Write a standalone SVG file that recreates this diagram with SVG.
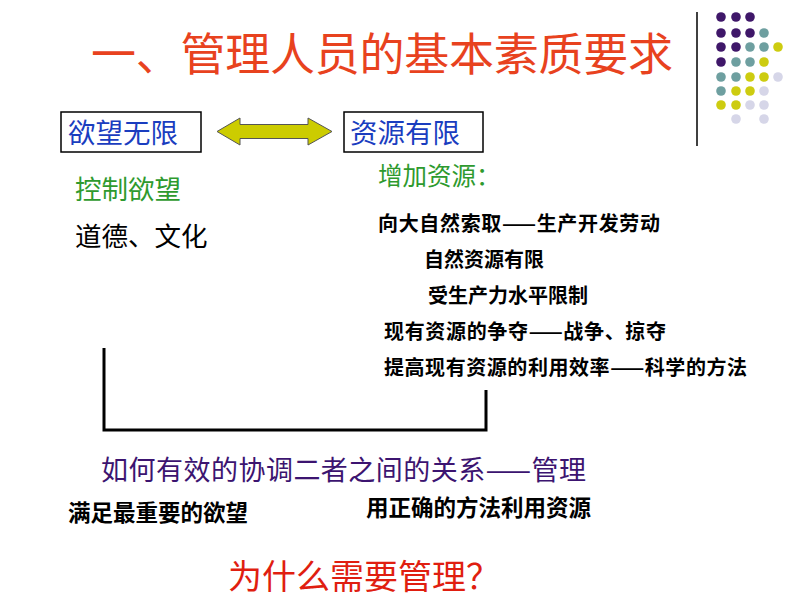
<svg xmlns="http://www.w3.org/2000/svg" width="800" height="600" viewBox="0 0 800 600">
<style>
text{font-family:"Noto Sans CJK SC","Noto Sans",sans-serif;}
.title{fill:#E8421E;font-size:45px;}
.box{fill:#fff;stroke:#000;stroke-width:1.5;}
.blue{fill:#1A3DBF;font-size:27.5px;}
.green{fill:#2E9A2E;}
.list{fill:#000;font-size:20px;font-weight:bold;}
.p{fill:#3C1470;font-size:27px;}
.sub{fill:#000;font-size:22.5px;font-weight:bold;}
.red{fill:#E01E10;font-size:34px;}
.dp{fill:#3F1769;} .dt{fill:#6E9FA0;} .dy{fill:#CDCC10;} .dl{fill:#D6D6E8;}
.line{stroke:#000;stroke-width:3;fill:none;}
</style>
<rect width="800" height="600" fill="#fff"/>
<g id="decor">
<line x1="697" y1="12" x2="697" y2="146" stroke="#000" stroke-width="1.5"/>
<g>
<circle class="dp" cx="721" cy="17" r="4.8"/><circle class="dp" cx="736" cy="17" r="4.8"/><circle class="dp" cx="750" cy="17" r="4.8"/>
<circle class="dp" cx="721" cy="33" r="4.8"/><circle class="dp" cx="736" cy="33" r="4.8"/><circle class="dp" cx="750" cy="33" r="4.8"/><circle class="dt" cx="764" cy="33" r="4.8"/>
<circle class="dp" cx="721" cy="47" r="4.8"/><circle class="dp" cx="736" cy="47" r="4.8"/><circle class="dt" cx="750" cy="47" r="4.8"/><circle class="dt" cx="764" cy="47" r="4.8"/><circle class="dy" cx="778" cy="47" r="4.8"/>
<circle class="dp" cx="721" cy="62" r="4.8"/><circle class="dt" cx="736" cy="62" r="4.8"/><circle class="dt" cx="750" cy="62" r="4.8"/><circle class="dy" cx="764" cy="62" r="4.8"/>
<circle class="dt" cx="721" cy="77" r="4.8"/><circle class="dt" cx="736" cy="77" r="4.8"/><circle class="dy" cx="750" cy="77" r="4.8"/><circle class="dy" cx="764" cy="77" r="4.8"/><circle class="dl" cx="778" cy="77" r="4.8"/>
<circle class="dt" cx="721" cy="91" r="4.8"/><circle class="dy" cx="736" cy="91" r="4.8"/><circle class="dy" cx="750" cy="91" r="4.8"/><circle class="dl" cx="764" cy="91" r="4.8"/>
<circle class="dy" cx="721" cy="105" r="4.8"/><circle class="dy" cx="736" cy="105" r="4.8"/><circle class="dl" cx="750" cy="105" r="4.8"/><circle class="dl" cx="764" cy="105" r="4.8"/>
<circle class="dl" cx="736" cy="119" r="4.8"/><circle class="dl" cx="764" cy="119" r="4.8"/>
</g>
</g>
<g id="title"><text class="title" x="91" y="71" textLength="582">一、管理人员的基本素质要求</text></g>
<g id="desire"><rect class="box" x="61" y="112" width="140" height="40"/><text class="blue" x="68" y="143">欲望无限</text></g>
<g id="resource"><rect class="box" x="344" y="112" width="139" height="40"/><text class="blue" x="350" y="143">资源有限</text></g>
<g id="control"><text class="green" x="75" y="199" font-size="26.5">控制欲望</text><text x="75" y="246" font-size="26.5" fill="#000">道德、文化</text></g>
<g id="increase"><text class="green" x="378" y="185" font-size="24.5">增加资源：</text>
<text class="list" x="378" y="231" textLength="282">向大自然索取——生产开发劳动</text>
<text class="list" x="424" y="267">自然资源有限</text>
<text class="list" x="428" y="303">受生产力水平限制</text>
<text class="list" x="384" y="339" textLength="282">现有资源的争夺——战争、掠夺</text>
<text class="list" x="384" y="375" textLength="363">提高现有资源的利用效率——科学的方法</text>
</g>
<g id="manage"><text class="p" x="101" y="480" textLength="485">如何有效的协调二者之间的关系——管理</text>
<text class="sub" x="68" y="521">满足最重要的欲望</text>
<text class="sub" x="366" y="516">用正确的方法利用资源</text></g>
<g id="question"><text class="red" x="228" y="589" textLength="272">为什么需要管理？</text></g>
<g id="connectors">
<path d="M217,131.5 L240,118 L240,124.5 L308,124.5 L308,118 L332,131.5 L308,145 L308,138.5 L240,138.5 L240,145 Z" fill="#CCCC00" stroke="#555" stroke-width="1"/>
<path class="line" d="M104,348 V430 H486 V390"/>
</g>
</svg>
